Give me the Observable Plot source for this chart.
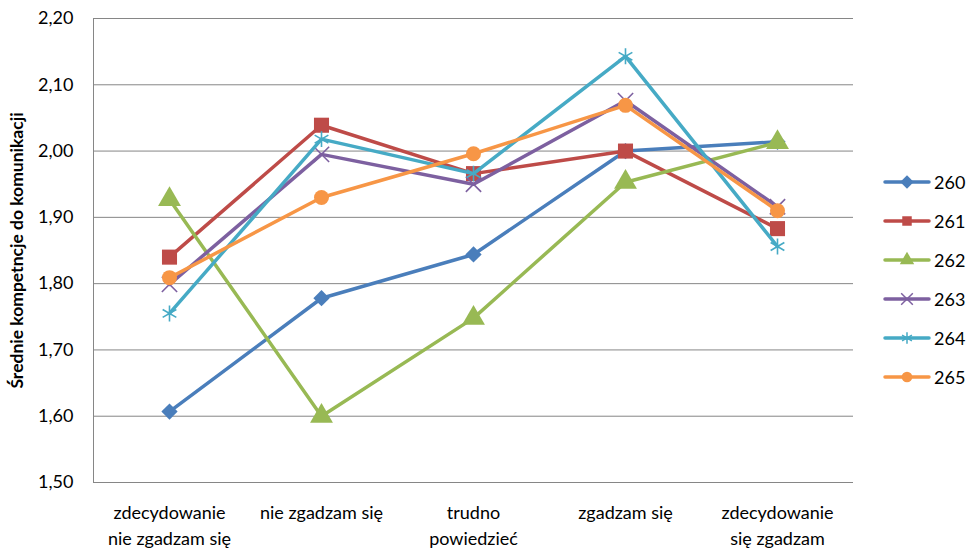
<!DOCTYPE html>
<html><head><meta charset="utf-8">
<script src="https://cdn.jsdelivr.net/npm/d3@7"></script>
<script src="https://cdn.jsdelivr.net/npm/@observablehq/plot@0.6"></script>
<style>
body{margin:0;background:#fff;}
#wrap{position:relative;width:973px;height:548px;font-family:Lato,"Open Sans",sans-serif;}
#legend{position:absolute;left:883px;top:162px;}
.li{height:39px;display:flex;align-items:center;font-size:18px;color:#000;}
.li svg{margin-right:3px}
</style></head><body>
<div id="wrap"><div id="legend"></div></div>
<script>
const categories = ["zdecydowanie\nnie zgadzam się","nie zgadzam się","trudno\npowiedzieć","zgadzam się","zdecydowanie\nsię zgadzam"];
const seriesNames = ["260","261","262","263","264","265"];
const s260 = [1.607,1.778,1.844,2.000,2.014];
const s261 = [1.840,2.039,1.966,2.000,1.883];
const s262 = [1.927,1.600,1.748,1.953,2.013];
const s263 = [1.799,1.995,1.950,2.076,1.916];
const s264 = [1.755,2.018,1.966,2.143,1.856];
const s265 = [1.809,1.930,1.996,2.069,1.910];
const yTicks = [1.5,1.6,1.7,1.8,1.9,2.0,2.1,2.2];
const yTitle = "Średnie kompetncje do komunikacji";

const values = [s260,s261,s262,s263,s264,s265];
const colors = ["#4a7ebb","#be4b48","#98b954","#7d60a0","#46aac5","#f79646"];
const symbols = ["square","square","triangle","times","asterisk","circle"];
const rotations = [45,0,0,0,0,0];
const radii = [6.5,8.5,8.5,7,7.5,7.5];
const data = [];
seriesNames.forEach((s,i)=>values[i].forEach((v,j)=>data.push({series:s,cat:categories[j],value:v,idx:i})));

const font = 'Lato,"Open Sans",sans-serif';
const fmt = d => d.toFixed(2).replace(".",",");
const marks = [
  Plot.gridY(yTicks.slice(1), {stroke:"#868686", strokeOpacity:1, strokeWidth:1}),
  Plot.ruleX([categories[0]], {stroke:"#868686", dx:-76}),
  Plot.ruleY([1.5], {stroke:"#868686"}),
  Plot.axisY({ticks:yTicks, tickFormat:fmt, tickSize:0, tickPadding:20, fontSize:18, label:null}),
  Plot.axisX({tickSize:0, tickPadding:18, fontSize:18, label:null, lineHeight:1.45}),
  Plot.text([yTitle], {frameAnchor:"left", textAnchor:"middle", dx:-76, rotate:-90, fontSize:17.5, fontWeight:"bold", fill:"#000"})
];
seriesNames.forEach((s,i)=>{
  const d = data.filter(r=>r.series===s);
  marks.push(Plot.line(d,{x:"cat",y:"value",stroke:colors[i],strokeWidth:3.5}));
  const stroked = symbols[i]==="times"||symbols[i]==="asterisk";
  marks.push(Plot.dot(d,{x:"cat",y:"value",symbol:()=>symbols[i],r:radii[i],rotate:rotations[i],
    fill: stroked? "none": colors[i], stroke: stroked? colors[i]:"none", strokeWidth: stroked?1.6:0}));
});

const chart = Plot.plot({
  width:973, height:548,
  marginLeft:93, marginRight:120, marginTop:18, marginBottom:66,
  style:{fontFamily:font, color:"#000", background:"#fff"},
  x:{type:"point", domain:categories, padding:0.5},
  y:{domain:[1.5,2.2]},
  symbol:{type:"identity"},
  marks
});
document.getElementById("wrap").prepend(chart);

const symMap = {square:d3.symbolSquare,triangle:d3.symbolTriangle,times:d3.symbolTimes,asterisk:d3.symbolAsterisk,circle:d3.symbolCircle};
const leg = d3.select("#legend");
seriesNames.forEach((s,i)=>{
  const row = leg.append("div").attr("class","li");
  const svg = row.append("svg").attr("width",48).attr("height",20);
  svg.append("line").attr("x1",2).attr("x2",46).attr("y1",10).attr("y2",10).attr("stroke",colors[i]).attr("stroke-width",3.5).attr("stroke-linecap","round");
  const stroked = symbols[i]==="times"||symbols[i]==="asterisk";
  const sym = d3.symbol(symMap[symbols[i]], 90)();
  svg.append("path").attr("d",sym).attr("transform",`translate(24,10) rotate(${rotations[i]})`)
    .attr("fill",stroked?"none":colors[i]).attr("stroke",stroked?colors[i]:"none").attr("stroke-width",1.5);
  row.append("span").text(s);
});
</script>
</body></html>
